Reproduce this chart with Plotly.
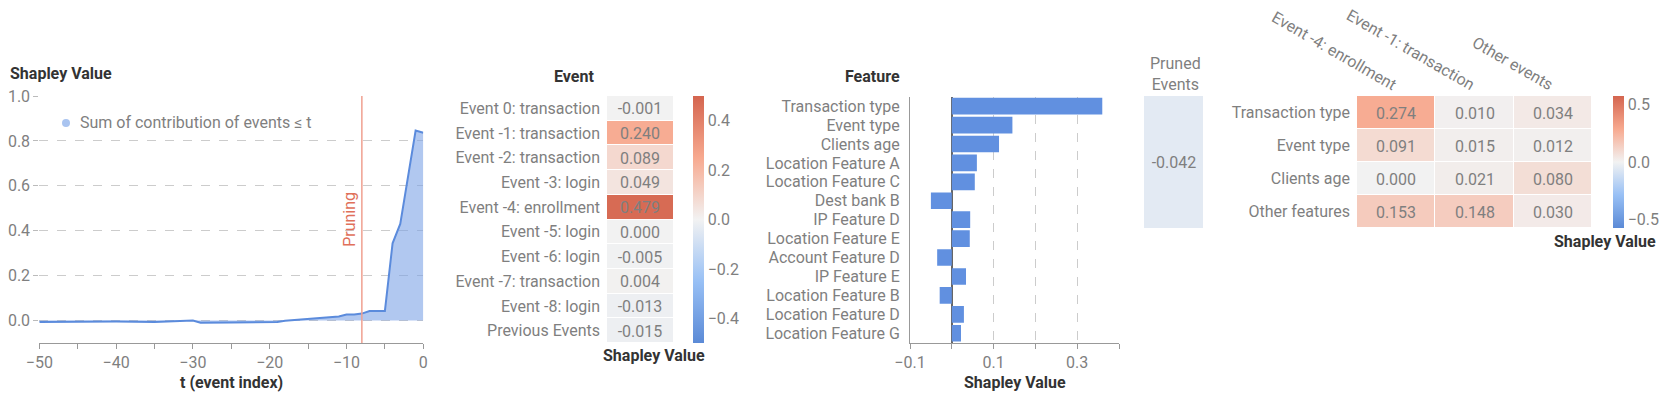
import plotly.graph_objects as go

# ---------------- data ----------------
t_index = [-50, -46, -45, -40, -38, -35, -30, -29, -25, -20, -19, -18, -15, -11, -10, -9, -8, -7, -5, -4, -3, -2, -1, 0]
cum_shap = [-0.006, -0.007, -0.005, -0.004, -0.006, -0.006, 0.000, -0.010, -0.009, -0.006, -0.006, -0.001, 0.006, 0.018,
            0.027, 0.027, 0.031, 0.042, 0.043, 0.344, 0.430, 0.645, 0.846, 0.836]
pruning_t = -8

event_labels = ["Event 0: transaction", "Event -1: transaction", "Event -2: transaction", "Event -3: login",
                "Event -4: enrollment", "Event -5: login", "Event -6: login", "Event -7: transaction",
                "Event -8: login", "Previous Events"]
event_values = [-0.001, 0.240, 0.089, 0.049, 0.479, 0.000, -0.005, 0.004, -0.013, -0.015]

feature_labels = ["Transaction type", "Event type", "Clients age", "Location Feature A", "Location Feature C",
                  "Dest bank B", "IP Feature D", "Location Feature E", "Account Feature D", "IP Feature E",
                  "Location Feature B", "Location Feature D", "Location Feature G"]
feature_values = [0.360, 0.145, 0.113, 0.060, 0.055, -0.050, 0.044, 0.043, -0.035, 0.034, -0.029, 0.029, 0.022]

pruned_value = -0.042

cell_events = ["Event -4: enrollment", "Event -1: transaction", "Other events"]
cell_features = ["Transaction type", "Event type", "Clients age", "Other features"]
cell_values = [[0.274, 0.010, 0.034],
               [0.091, 0.015, 0.012],
               [0.000, 0.021, 0.080],
               [0.153, 0.148, 0.030]]

legend_text = "Sum of contribution of events ≤ t"

# ---------------- style ----------------
W, H = 1665, 396
FONT = "Roboto"
GRAY = "#7f7f7f"
DARK = "#333333"
FS = 16
colorscale = [[0.0, "#5b8ad6"], [0.25, "#98c0f5"], [0.5, "#f2f2f2"], [0.75, "#f7a98f"], [1.0, "#d4654f"]]


def px(x):
    return x / W


def py(y):
    return 1 - y / H


fig = go.Figure()

# ---- panel 1: cumulative line ----
fig.add_trace(go.Scatter(x=t_index, y=cum_shap, mode="lines", line=dict(color="#5b8bdc", width=2),
                         fill="tozeroy", fillcolor="rgba(120,160,230,0.58)", showlegend=False,
                         xaxis="x", yaxis="y"))

# ---- panel 2: event heatmap ----
fig.add_trace(go.Heatmap(z=[[v] for v in event_values], x=["Shapley Value"], y=event_labels,
                         text=[[f"{v:.3f}"] for v in event_values], texttemplate="%{text}",
                         textfont=dict(family=FONT, size=FS, color=GRAY),
                         colorscale=colorscale, zmin=-0.5, zmax=0.5, ygap=1,
                         colorbar=dict(x=px(693), xanchor="left", thickness=11, thicknessmode="pixels",
                                       len=(343 - 96) / H, lenmode="fraction", y=py((96 + 343) / 2),
                                       yanchor="middle", outlinewidth=0, tickvals=[-0.4, -0.2, 0, 0.2, 0.4],
                                       tickformat=".1f", ticks="", xpad=0, ypad=0,
                                       tickfont=dict(family=FONT, size=FS, color=GRAY)),
                         xaxis="x2", yaxis="y2", hoverinfo="skip"))

# ---- panel 3: feature bars ----
fig.add_trace(go.Bar(x=feature_values, y=feature_labels, orientation="h",
                     marker=dict(color="#6190e0", line=dict(width=0)),
                     xaxis="x3", yaxis="y3", showlegend=False))

# ---- pruned events cell ----
fig.add_trace(go.Heatmap(z=[[pruned_value]], x=["Pruned"], y=["Pruned"], text=[[f"{pruned_value:.3f}"]],
                         texttemplate="%{text}", textfont=dict(family=FONT, size=FS, color=GRAY),
                         colorscale=colorscale, zmin=-0.5, zmax=0.5, showscale=False,
                         xaxis="x4", yaxis="y4", hoverinfo="skip"))

# ---- panel 4: feature x event heatmap ----
fig.add_trace(go.Heatmap(z=cell_values, x=cell_events, y=cell_features,
                         text=[[f"{v:.3f}" for v in row] for row in cell_values], texttemplate="%{text}",
                         textfont=dict(family=FONT, size=FS, color=GRAY),
                         colorscale=colorscale, zmin=-0.57, zmax=0.57, xgap=1, ygap=1,
                         colorbar=dict(x=px(1613), xanchor="left", thickness=11, thicknessmode="pixels",
                                       len=(228 - 96) / H, lenmode="fraction", y=py((96 + 228) / 2),
                                       yanchor="middle", outlinewidth=0, tickvals=[-0.5, 0, 0.5],
                                       tickformat=".1f", ticks="", xpad=0, ypad=0,
                                       tickfont=dict(family=FONT, size=FS, color=GRAY)),
                         xaxis="x5", yaxis="y5", hoverinfo="skip"))

tickfont = dict(family=FONT, size=FS, color=GRAY)

fig.update_layout(
    width=W, height=H, margin=dict(l=0, r=0, t=0, b=0, autoexpand=False),
    paper_bgcolor="white", plot_bgcolor="rgba(0,0,0,0)",
    font=dict(family=FONT, size=FS, color=GRAY),
    showlegend=False,
    xaxis=dict(domain=[px(39.3), px(423.3)], range=[-50, 0], anchor="y", tickvals=[-50, -40, -30, -20, -10, 0],
               ticks="outside", ticklen=5, tickcolor="#999", showline=True, linecolor="#999", linewidth=1,
               showgrid=False, zeroline=False, tickfont=tickfont, automargin=False,
               minor=dict(dtick=5, tick0=0, ticks="outside", ticklen=5, tickcolor="#999", showgrid=False)),
    yaxis=dict(domain=[py(343), py(96)], range=[-0.1, 1.0], anchor="x", tickvals=[0, 0.2, 0.4, 0.6, 0.8, 1.0],
               tickformat=".1f", ticks="outside", ticklen=5, tickcolor="#bbb", showline=False, automargin=False,
               showgrid=True, gridcolor="#cccccc", griddash="dash", zeroline=False, tickfont=tickfont),
    xaxis2=dict(domain=[px(607), px(673)], anchor="y2", showticklabels=False, ticks="", showgrid=False,
                zeroline=False, showline=False, automargin=False),
    yaxis2=dict(domain=[py(343), py(96)], anchor="x2", autorange="reversed", ticks="", showgrid=False,
                zeroline=False, showline=False, tickfont=tickfont, ticklabelstandoff=6, automargin=False,
                tickmode="array", tickvals=event_labels),
    xaxis3=dict(domain=[px(910), px(1119)], range=[-0.1, 0.4], anchor="y3",
                tickvals=[-0.1, 0, 0.1, 0.2, 0.3, 0.4], ticktext=["−0.1", "", "0.1", "", "0.3", ""],
                ticks="outside", ticklen=5, tickcolor="#999", showline=True, linecolor="#999",
                showgrid=True, gridcolor="#cccccc", griddash="dash", automargin=False,
                zeroline=True, zerolinecolor="#666", zerolinewidth=1.5, tickfont=tickfont),
    yaxis3=dict(domain=[py(342.7), py(96.7)], anchor="x3", autorange="reversed", ticks="", showgrid=False,
                showline=True, linecolor="#999", zeroline=False, tickfont=tickfont, ticklabelstandoff=6,
                automargin=False, tickmode="array", tickvals=feature_labels),
    bargap=0.12,
    xaxis4=dict(domain=[px(1144), px(1203)], anchor="y4", visible=False, automargin=False),
    yaxis4=dict(domain=[py(228), py(96)], anchor="x4", visible=False, automargin=False),
    xaxis5=dict(domain=[px(1357), px(1592)], anchor="y5", side="top", tickangle=30, ticks="", showgrid=False,
                zeroline=False, showline=False, tickfont=tickfont, automargin=False,
                tickmode="array", tickvals=cell_events),
    yaxis5=dict(domain=[py(228), py(96)], anchor="x5", autorange="reversed", ticks="", showgrid=False,
                zeroline=False, showline=False, tickfont=tickfont, ticklabelstandoff=6, automargin=False,
                tickmode="array", tickvals=cell_features),
)

bold = dict(family=FONT, size=FS, color=DARK)
annots = [
    dict(text="<b>Shapley Value</b>", x=px(8), y=py(73), xanchor="left", yanchor="middle"),
    dict(text="<b>t (event index)</b>", x=px(231), y=py(382), xanchor="center", yanchor="middle"),
    dict(text="<b>Event</b>", x=px(574), y=py(76), xanchor="center", yanchor="middle"),
    dict(text="<b>Shapley Value</b>", x=px(654), y=py(355), xanchor="center", yanchor="middle"),
    dict(text="<b>Feature</b>", x=px(872), y=py(76), xanchor="center", yanchor="middle"),
    dict(text="<b>Shapley Value</b>", x=px(1015), y=py(382), xanchor="center", yanchor="middle"),
    dict(text="<b>Shapley Value</b>", x=px(1605), y=py(241), xanchor="center", yanchor="middle"),
]
for a in annots:
    fig.add_annotation(xref="paper", yref="paper", showarrow=False, font=bold, **a)

fig.add_annotation(xref="paper", yref="paper", showarrow=False, text="Pruned<br>Events", x=px(1175), y=py(52),
                   xanchor="center", yanchor="top", font=dict(family=FONT, size=FS, color=GRAY))

# legend (symbol + label)
fig.add_shape(type="circle", xref="paper", yref="paper", x0=px(62), x1=px(70), y0=py(127), y1=py(119),
              fillcolor="#a9c4f0", line=dict(width=0))
fig.add_annotation(xref="paper", yref="paper", showarrow=False, text=legend_text, x=px(78), y=py(123),
                   xanchor="left", yanchor="middle", font=dict(family=FONT, size=FS, color=GRAY))

# pruning marker
fig.add_shape(type="line", xref="x", yref="y domain", x0=pruning_t, x1=pruning_t, y0=0, y1=1,
              line=dict(color="#f0a090", width=1.5))
fig.add_annotation(xref="x", yref="y", x=pruning_t, y=0.45, text="Pruning", textangle=-90, showarrow=False,
                   xanchor="right", yanchor="middle", xshift=-1,
                   font=dict(family=FONT, size=FS, color="#e0705a"))

fig.write_html("out.html", config={"displayModeBar": False},
               post_script="document.body.style.margin='0px';document.body.style.overflow='hidden';")
